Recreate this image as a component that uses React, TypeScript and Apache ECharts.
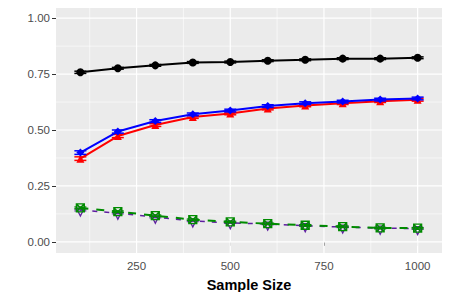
import React, { useEffect, useRef } from "react";
import * as echarts from "echarts";

const sampleSizes = [100, 200, 300, 400, 500, 600, 700, 800, 900, 1000];
const blackVals = [0.758, 0.776, 0.789, 0.802, 0.804, 0.81, 0.814, 0.819, 0.819, 0.823];
const blueVals = [0.399, 0.493, 0.54, 0.57, 0.587, 0.607, 0.62, 0.627, 0.636, 0.641];
const redVals = [0.372, 0.473, 0.522, 0.558, 0.574, 0.596, 0.61, 0.62, 0.629, 0.635];
const greenVals = [0.152, 0.135, 0.117, 0.099, 0.089, 0.081, 0.074, 0.068, 0.062, 0.061];
const purpleVals = [0.142, 0.128, 0.11, 0.093, 0.085, 0.079, 0.072, 0.066, 0.061, 0.059];
const blackErr = [0.005, 0.004, 0.004, 0.004, 0.004, 0.004, 0.004, 0.004, 0.004, 0.004];
const blueErr = [0.008, 0.007, 0.006, 0.006, 0.006, 0.006, 0.006, 0.006, 0.006, 0.006];
const redErr = [0.008, 0.007, 0.006, 0.006, 0.006, 0.006, 0.006, 0.006, 0.006, 0.006];
const greenErr = [0.004, 0.003, 0.003, 0.003, 0.003, 0.003, 0.003, 0.003, 0.003, 0.003];
const purpleErr = [0.004, 0.003, 0.003, 0.003, 0.003, 0.003, 0.003, 0.003, 0.003, 0.003];

const xTicks = [250, 500, 750, 1000];
const xMinor = [125, 375, 625, 875];
const yTicks = [0, 0.25, 0.5, 0.75, 1];
const yMinor = [0.125, 0.375, 0.625, 0.875];

const X_MIN = 35;
const X_MAX = 1065;
const Y_MIN = -0.05;
const Y_MAX = 1.05;
const CAP_HALF = 16;

const FONT = "'Liberation Sans', Arial, sans-serif";

function gridSeries(values: number[], vertical: boolean, width: number) {
  return {
    type: "custom",
    silent: true,
    z: 1,
    data: values.map((v) => [v]),
    encode: { x: -1, y: -1 },
    renderItem: (params: any, api: any) => {
      const cs = params.coordSys;
      const v = api.value(0);
      if (vertical) {
        const x = api.coord([v, 0])[0];
        return {
          type: "line",
          shape: { x1: x, y1: cs.y, x2: x, y2: cs.y + cs.height },
          style: { stroke: "#FFFFFF", lineWidth: width },
        };
      }
      const y = api.coord([500, v])[1];
      return {
        type: "line",
        shape: { x1: cs.x, y1: y, x2: cs.x + cs.width, y2: y },
        style: { stroke: "#FFFFFF", lineWidth: width },
      };
    },
  };
}

function errSeries(vals: number[], errs: number[], color: string, width: number, z: number) {
  return {
    type: "custom",
    silent: true,
    z,
    data: sampleSizes.map((x, i) => [x, vals[i], errs[i]]),
    encode: { x: 0, y: 1 },
    renderItem: (params: any, api: any) => {
      const x = api.value(0);
      const y = api.value(1);
      const e = api.value(2);
      const lo = api.coord([x, y - e]);
      const hi = api.coord([x, y + e]);
      const l1 = api.coord([x - CAP_HALF, y - e]);
      const r1 = api.coord([x + CAP_HALF, y - e]);
      const l2 = api.coord([x - CAP_HALF, y + e]);
      const r2 = api.coord([x + CAP_HALF, y + e]);
      const style = { stroke: color, lineWidth: width };
      return {
        type: "group",
        children: [
          { type: "line", shape: { x1: lo[0], y1: lo[1], x2: hi[0], y2: hi[1] }, style },
          { type: "line", shape: { x1: l1[0], y1: l1[1], x2: r1[0], y2: r1[1] }, style },
          { type: "line", shape: { x1: l2[0], y1: l2[1], x2: r2[0], y2: r2[1] }, style },
        ],
      };
    },
  };
}

function lineSeries(vals: number[], color: string, opts: any) {
  return {
    type: "line",
    data: sampleSizes.map((x, i) => [x, vals[i]]),
    showSymbol: true,
    symbol: opts.symbol,
    symbolSize: opts.symbolSize,
    symbolRotate: opts.symbolRotate || 0,
    symbolOffset: opts.symbolOffset || [0, 0],
    lineStyle: { color, width: opts.lineWidth, type: opts.dash || "solid" },
    itemStyle: opts.hollow
      ? { color: "none", borderColor: color, borderWidth: 1.3 }
      : { color, borderWidth: 0 },
    z: opts.z,
    silent: true,
  };
}

export default function App() {
  const ref = useRef<HTMLDivElement>(null);

  useEffect(() => {
    if (!ref.current) return;
    const chart = echarts.init(ref.current, undefined, { renderer: "svg" });
    const axisLabel = { color: "#4D4D4D", fontSize: 11.5, fontFamily: FONT };
    chart.setOption({
      animation: false,
      backgroundColor: "#FFFFFF",
      grid: {
        left: 56,
        right: 8,
        top: 7,
        bottom: 47,
        show: true,
        backgroundColor: "#EBEBEB",
        borderWidth: 0,
      },
      xAxis: {
        type: "value",
        min: X_MIN,
        max: X_MAX,
        name: "Sample Size",
        nameLocation: "middle",
        nameGap: 24,
        nameTextStyle: { color: "#000000", fontSize: 14.5, fontWeight: "bold", fontFamily: FONT },
        axisLine: { show: false },
        axisTick: { show: true, customValues: xTicks, length: 4, lineStyle: { color: "#333333", width: 1 } },
        axisLabel: { ...axisLabel, customValues: xTicks, margin: 7, formatter: (v: number) => String(v) },
        splitLine: { show: false },
      },
      yAxis: {
        type: "value",
        min: Y_MIN,
        max: Y_MAX,
        axisLine: { show: false },
        axisTick: { show: true, customValues: yTicks, length: 4, lineStyle: { color: "#333333", width: 1 } },
        axisLabel: { ...axisLabel, customValues: yTicks, margin: 6, formatter: (v: number) => v.toFixed(2) },
        splitLine: { show: false },
      },
      series: [
        gridSeries(xMinor, true, 0.6),
        gridSeries(yMinor, false, 0.6),
        gridSeries(xTicks, true, 1.2),
        gridSeries(yTicks, false, 1.2),
        lineSeries(blackVals, "#000000", { symbol: "circle", symbolSize: 8, lineWidth: 2, z: 10 }),
        errSeries(blackVals, blackErr, "#000000", 1.5, 11),
        lineSeries(redVals, "#FF0000", { symbol: "triangle", symbolSize: 8, lineWidth: 2, z: 12 }),
        errSeries(redVals, redErr, "#FF0000", 1.5, 13),
        lineSeries(blueVals, "#0000FF", { symbol: "diamond", symbolSize: 8, lineWidth: 2, z: 14 }),
        errSeries(blueVals, blueErr, "#0000FF", 1.5, 15),
        lineSeries(purpleVals, "#5E1EA0", {
          symbol: "triangle",
          symbolRotate: 180,
          symbolSize: 8,
          symbolOffset: [0, 2],
          lineWidth: 1.5,
          dash: [5, 7],
          hollow: true,
          z: 16,
        }),
        errSeries(purpleVals, purpleErr, "#5E1EA0", 1, 17),
        lineSeries(greenVals, "#008B00", {
          symbol: "path://M0,0H10V10H0ZM0,0L10,10M10,0L0,10",
          symbolSize: 8,
          lineWidth: 2,
          dash: [8, 8],
          hollow: true,
          z: 18,
        }),
        errSeries(greenVals, greenErr, "#008B00", 1.2, 19),
      ],
    });
    return () => chart.dispose();
  }, []);

  return <div ref={ref} style={{ width: 450, height: 300, margin: -8 }} />;
}
